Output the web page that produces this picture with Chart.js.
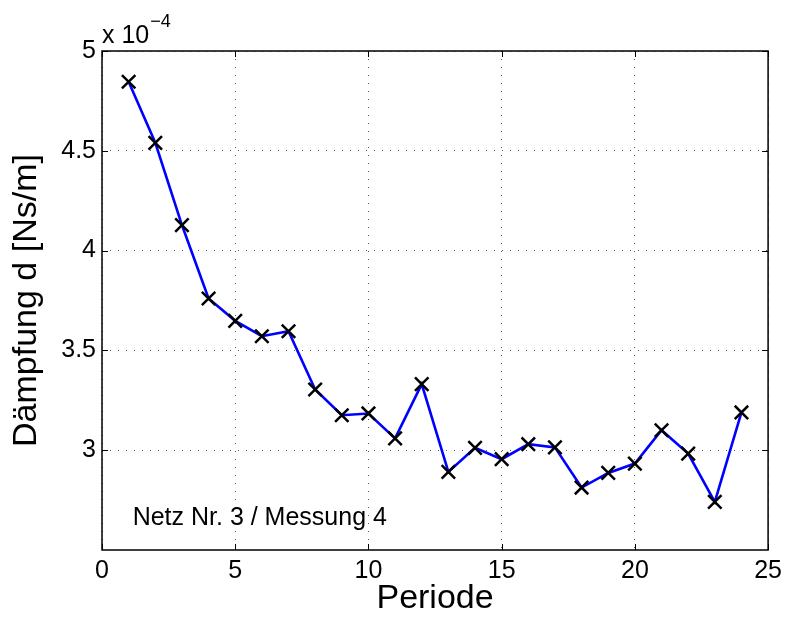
<!DOCTYPE html>
<html>
<head>
<meta charset="utf-8">
<script src="https://cdn.jsdelivr.net/npm/chart.js@4.4.0/dist/chart.umd.min.js"></script>
<style>
  body { margin: 0; background: #fff; }
</style>
</head>
<body>
<canvas id="chart" width="788" height="619"></canvas>
<script>
// Damping per period, values in units of 1e-4 Ns/m
const periods = [1, 2, 3, 4, 5, 6, 7, 8, 9, 10, 11, 12, 13, 14, 15, 16, 17, 18, 19, 20, 21, 22, 23, 24];
const damping = [4.846, 4.54, 4.128, 3.76, 3.648, 3.571, 3.596, 3.304, 3.175, 3.184, 3.059, 3.331,
                 2.891, 3.012, 2.955, 3.03, 3.014, 2.813, 2.886, 2.933, 3.1, 2.983, 2.741, 3.189];
const xTicks = [0, 5, 10, 15, 20, 25];
const yTicks = [3, 3.5, 4, 4.5, 5];
const yExponent = '\u22124';
const noteText = 'Netz Nr. 3 / Messung 4';
const notePos = { x: 1.15, y: 2.625 };

const FONT = '"Liberation Sans", Arial, Helvetica, sans-serif';

// frame, inward tick marks, exponent label and text note (MATLAB look)
const decorations = {
    id: 'decorations',
    afterDatasetsDraw(chart) {
        const { ctx, chartArea: a, scales: { x, y } } = chart;
        const len = 6;
        ctx.save();
        ctx.strokeStyle = '#000';
        ctx.lineWidth = 1;
        ctx.beginPath();
        xTicks.forEach(v => {
            const px = Math.round(x.getPixelForValue(v)) + 0.5;
            ctx.moveTo(px, a.bottom); ctx.lineTo(px, a.bottom - len);
            ctx.moveTo(px, a.top); ctx.lineTo(px, a.top + len);
        });
        yTicks.forEach(v => {
            const py = Math.round(y.getPixelForValue(v)) + 0.5;
            ctx.moveTo(a.left, py); ctx.lineTo(a.left + len, py);
            ctx.moveTo(a.right, py); ctx.lineTo(a.right - len, py);
        });
        ctx.stroke();
        ctx.lineWidth = 1.5;
        ctx.strokeRect(a.left, a.top, a.right - a.left, a.bottom - a.top);

        ctx.fillStyle = '#000';
        ctx.textBaseline = 'alphabetic';
        ctx.textAlign = 'left';
        ctx.font = '25px ' + FONT;
        ctx.fillText('x 10', a.left, a.top - 8);
        const w = ctx.measureText('x 10').width;
        ctx.font = '18px ' + FONT;
        ctx.fillText(yExponent, a.left + w + 1, a.top - 24);

        ctx.font = '25px ' + FONT;
        ctx.fillText(noteText, x.getPixelForValue(notePos.x), y.getPixelForValue(notePos.y));
        ctx.restore();
    }
};

new Chart(document.getElementById('chart'), {
    type: 'line',
    data: {
        datasets: [{
            data: periods.map((p, i) => ({ x: p, y: damping[i] })),
            borderColor: '#0000ff',
            borderWidth: 2.6,
            tension: 0,
            fill: false,
            pointStyle: 'crossRot',
            pointRadius: 9.5,
            pointHoverRadius: 9.5,
            pointBorderColor: '#000',
            pointBorderWidth: 2.5,
            pointBackgroundColor: '#000',
        }],
    },
    options: {
        responsive: false,
        animation: false,
        layout: { padding: { left: 0, top: 51, right: 16, bottom: 0 } },
        plugins: {
            legend: { display: false },
            tooltip: { enabled: false },
        },
        scales: {
            x: {
                type: 'linear',
                min: 0,
                max: 25,
                afterFit: s => { s.height = 69; },
                afterBuildTicks: s => { s.ticks = xTicks.map(v => ({ value: v })); },
                ticks: {
                    color: '#000',
                    font: { family: FONT, size: 25 },
                    padding: 6,
                    maxRotation: 0,
                    callback: v => String(v),
                },
                grid: {
                    color: 'rgba(0,0,0,0.65)',
                    lineWidth: 1,
                    drawTicks: false,
                },
                border: { display: false, dash: [1, 7] },
                title: {
                    display: true,
                    text: 'Periode',
                    color: '#000',
                    font: { family: FONT, size: 34 },
                    padding: { top: 0, bottom: 0 },
                },
            },
            y: {
                type: 'linear',
                min: 2.5,
                max: 5,
                afterFit: s => { s.width = 102; },
                afterBuildTicks: s => { s.ticks = yTicks.map(v => ({ value: v })); },
                ticks: {
                    color: '#000',
                    font: { family: FONT, size: 25 },
                    padding: 6,
                    callback: v => String(v),
                },
                grid: {
                    color: 'rgba(0,0,0,0.65)',
                    lineWidth: 1,
                    drawTicks: false,
                },
                border: { display: false, dash: [1, 7] },
                title: {
                    display: true,
                    text: 'Dämpfung d [Ns/m]',
                    color: '#000',
                    font: { family: FONT, size: 34 },
                    padding: { top: 6, bottom: 0 },
                },
            },
        },
    },
    plugins: [decorations],
});
</script>
</body>
</html>
